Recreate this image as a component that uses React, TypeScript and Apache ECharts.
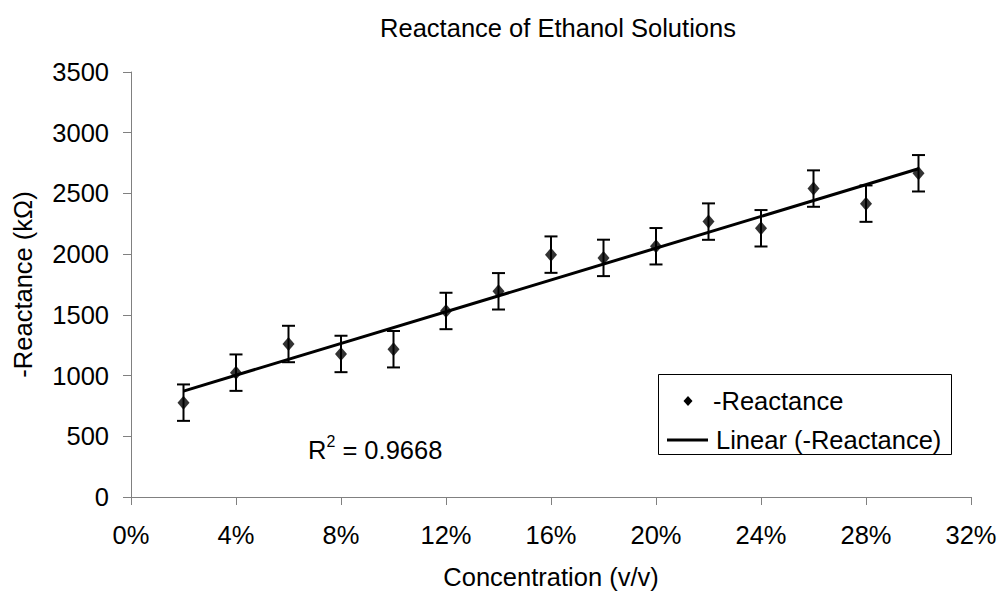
import React, { useEffect, useRef } from "react";
import * as echarts from "echarts";

const concentration = [2, 4, 6, 8, 10, 12, 14, 16, 18, 20, 22, 24, 26, 28, 30];
const reactance = [777, 1024, 1260, 1178, 1217, 1532, 1694, 1996, 1969, 2065, 2268, 2213, 2540, 2416, 2666];
const errorMargin = [150, 150, 150, 150, 150, 150, 150, 150, 150, 150, 150, 150, 150, 150, 150];
const trendX = [2, 30];
const trendY = [872, 2703];
const titleText = "Reactance of Ethanol Solutions";
const xAxisTitle = "Concentration (v/v)";
const yAxisTitle = "-Reactance (kΩ)";
const seriesName = "-Reactance";
const trendName = "Linear (-Reactance)";
const rSquared = "0.9668";

const FONT = "'Liberation Sans', Arial, Helvetica, sans-serif";
const FS = 25.5;

export default function App() {
  const ref = useRef<HTMLDivElement>(null);
  useEffect(() => {
    if (!ref.current) return;
    const chart = echarts.init(ref.current, undefined, { renderer: "svg" });
    const scatterData = concentration.map((x, i) => [x, reactance[i]]);
    const errData = concentration.map((x, i) => [x, reactance[i] - errorMargin[i], reactance[i] + errorMargin[i]]);
    const trendData = trendX.map((x, i) => [x, trendY[i]]);
    const option: any = {
      animation: false,
      backgroundColor: "#fff",
      textStyle: { fontFamily: FONT, color: "#000" },
      grid: { left: 131, right: 34, top: 72, bottom: 100, containLabel: false },
      xAxis: {
        type: "value",
        min: 0,
        max: 32,
        interval: 4,
        name: xAxisTitle,
        nameLocation: "middle",
        nameGap: 67,
        nameTextStyle: { fontSize: FS, fontFamily: FONT, color: "#000" },
        axisLine: { show: true, lineStyle: { color: "#808080", width: 1 } },
        axisTick: { show: true, inside: false, length: 8, lineStyle: { color: "#808080" } },
        axisLabel: { fontSize: FS, fontFamily: FONT, color: "#000", margin: 25, formatter: (v: number) => `${v}%` },
        splitLine: { show: false },
      },
      yAxis: {
        type: "value",
        min: 0,
        max: 3500,
        interval: 500,
        name: yAxisTitle,
        nameLocation: "middle",
        nameGap: 95,
        nameRotate: 90,
        nameTextStyle: { fontSize: FS, fontFamily: FONT, color: "#000" },
        axisLine: { show: true, lineStyle: { color: "#808080", width: 1 } },
        axisTick: { show: true, inside: false, length: 8, lineStyle: { color: "#808080" } },
        axisLabel: { fontSize: FS, fontFamily: FONT, color: "#000", margin: 22, formatter: (v: number) => String(v) },
        splitLine: { show: false },
      },
      series: [
        {
          type: "custom",
          name: "errors",
          z: 1,
          data: errData,
          renderItem: (params: any, api: any) => {
            const x = api.value(0);
            const lo = api.coord([x, api.value(1)]);
            const hi = api.coord([x, api.value(2)]);
            const cw = 6.5;
            const style = { stroke: "#000", lineWidth: 2 };
            return {
              type: "group",
              children: [
                { type: "line", shape: { x1: lo[0], y1: lo[1], x2: hi[0], y2: hi[1] }, style },
                { type: "line", shape: { x1: lo[0] - cw, y1: lo[1], x2: lo[0] + cw, y2: lo[1] }, style },
                { type: "line", shape: { x1: hi[0] - cw, y1: hi[1], x2: hi[0] + cw, y2: hi[1] }, style },
              ],
            };
          },
        },
        {
          type: "line",
          name: trendName,
          z: 2,
          data: trendData,
          showSymbol: false,
          symbol: "none",
          lineStyle: { color: "#000", width: 3 },
        },
        {
          type: "scatter",
          name: seriesName,
          z: 3,
          data: scatterData,
          symbol: "diamond",
          symbolSize: [12, 14],
          itemStyle: { color: "#000" },
        },
      ],
      graphic: [
        {
          type: "text",
          x: 558,
          y: 28,
          style: { text: titleText, font: `${FS}px ${FONT}`, fill: "#000", align: "center", verticalAlign: "middle" },
        },
        {
          type: "text",
          x: 308,
          y: 448,
          style: {
            text: "{a|R}{s|2}{a| = " + rSquared + "}",
            fill: "#000",
            verticalAlign: "middle",
            rich: {
              a: { fontSize: FS, fontFamily: FONT, color: "#000", verticalAlign: "bottom", lineHeight: 30 },
              s: { fontSize: 16, fontFamily: FONT, color: "#000", verticalAlign: "top", lineHeight: 30 },
            },
          },
        },
        {
          type: "rect",
          shape: { x: 658.5, y: 374.5, width: 293, height: 80 },
          style: { fill: "#fff", stroke: "#000", lineWidth: 1 },
          z: 10,
        },
        {
          type: "polygon",
          shape: { points: [[688, 396], [692.5, 401], [688, 406], [683.5, 401]] },
          style: { fill: "#000" },
          z: 11,
        },
        {
          type: "text",
          x: 713,
          y: 401,
          style: { text: seriesName, font: `${FS}px ${FONT}`, fill: "#000", verticalAlign: "middle" },
          z: 11,
        },
        {
          type: "line",
          shape: { x1: 667, y1: 440, x2: 708, y2: 440 },
          style: { stroke: "#000", lineWidth: 3 },
          z: 11,
        },
        {
          type: "text",
          x: 716,
          y: 440,
          style: { text: trendName, font: `${FS}px ${FONT}`, fill: "#000", verticalAlign: "middle" },
          z: 11,
        },
      ],
    };
    chart.setOption(option);
    return () => chart.dispose();
  }, []);
  return <div ref={ref} style={{ width: 1005, height: 597, position: "absolute", left: 0, top: 0 }} />;
}
